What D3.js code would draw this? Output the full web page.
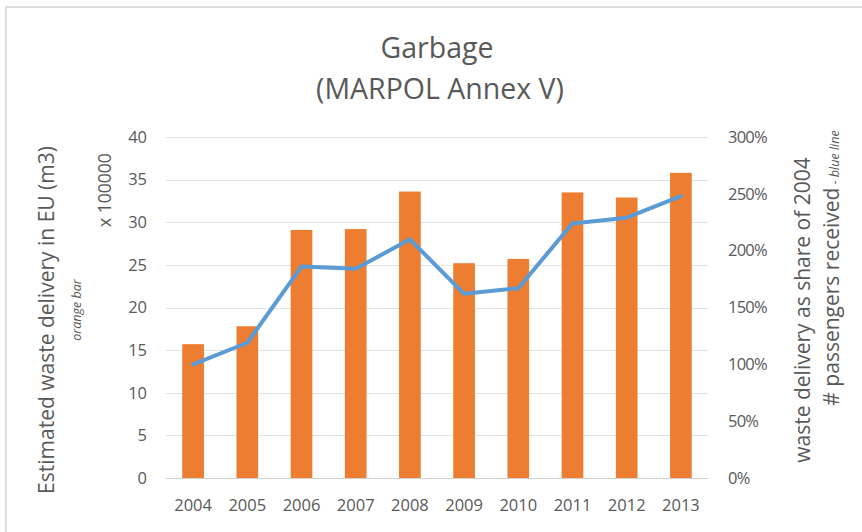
<!DOCTYPE html>
<html>
<head>
<meta charset="utf-8">
<script src="https://cdn.jsdelivr.net/npm/d3@7"></script>
<style>
	body {margin: 0; background: #fff;}
	svg text {font-family: "Open Sans", Lato, sans-serif; fill: #595959;}
</style>
</head>
<body>
<div id="chart"></div>
<script>
(function() {
	'use strict';

	// values
	var years = ['2004', '2005', '2006', '2007', '2008', '2009', '2010', '2011', '2012', '2013'];
	var wasteDelivery = [15.7, 17.8, 29.1, 29.2, 33.6, 25.2, 25.7, 33.5, 32.9, 35.8]; // x 100000 m3
	var shareOf2004 = [1.00, 1.19, 1.86, 1.84, 2.10, 1.62, 1.67, 2.24, 2.29, 2.48];
	var leftTicks = [0, 5, 10, 15, 20, 25, 30, 35, 40];
	var rightTicks = [0, 0.5, 1, 1.5, 2, 2.5, 3];

	var W = 862, H = 532;
	var plot = {x0: 166, x1: 708, y0: 137, y1: 478};

	var svg = d3.select('#chart').append('svg')
		.attr('width', W).attr('height', H);

	// chart frame (only top/left edges are inside the picture)
	svg.append('rect')
		.attr('x', 6).attr('y', 7)
		.attr('width', W + 10).attr('height', H + 10)
		.attr('fill', '#fff')
		.attr('stroke', '#dedede')
		.attr('stroke-width', 2);

	var x = d3.scaleBand().domain(years).range([plot.x0, plot.x1]).paddingInner(0.6).paddingOuter(0.3);
	var yL = d3.scaleLinear().domain([0, 40]).range([plot.y1, plot.y0]);
	var yR = d3.scaleLinear().domain([0, 3]).range([plot.y1, plot.y0]);

	// gridlines
	svg.append('g')
		.selectAll('line')
		.data(leftTicks)
		.join('line')
		.attr('x1', plot.x0).attr('x2', plot.x1)
		.attr('y1', function(d) {return Math.round(yL(d)) + 0.5;})
		.attr('y2', function(d) {return Math.round(yL(d)) + 0.5;})
		.attr('stroke', function(d) {return d === 0 ? '#d0d0d0' : '#e3e3e3';})
		.attr('stroke-width', 1.2);

	// left axis labels
	var axL = svg.append('g')
		.attr('transform', 'translate(' + (plot.x0 - 19) + ',0)')
		.call(d3.axisLeft(yL).tickValues(leftTicks).tickSize(0).tickPadding(0));
	axL.select('.domain').remove();
	axL.selectAll('text').attr('font-size', 16.5).style('fill', '#595959');

	// right axis labels
	var axR = svg.append('g')
		.attr('transform', 'translate(' + (plot.x1 + 20) + ',0)')
		.call(d3.axisRight(yR).tickValues(rightTicks).tickSize(0).tickPadding(0).tickFormat(d3.format('.0%')));
	axR.select('.domain').remove();
	axR.selectAll('text').attr('font-size', 16.5).attr('letter-spacing', -0.8).style('fill', '#595959');

	// x axis labels
	var axB = svg.append('g')
		.attr('transform', 'translate(0,' + (plot.y1 + 21) + ')')
		.call(d3.axisBottom(x).tickSize(0).tickPadding(0));
	axB.select('.domain').remove();
	axB.selectAll('text').attr('font-size', 16.5).attr('dy', '0.71em').style('fill', '#595959');

	// bars
	svg.append('g')
		.selectAll('rect')
		.data(wasteDelivery)
		.join('rect')
		.attr('x', function(d, i) {return x(years[i]);})
		.attr('width', x.bandwidth())
		.attr('y', function(d) {return yL(d);})
		.attr('height', function(d) {return yL(0) - yL(d);})
		.attr('fill', '#ED7D31');

	// line
	var line = d3.line()
		.x(function(d, i) {return x(years[i]) + x.bandwidth() / 2;})
		.y(function(d) {return yR(d);});
	svg.append('path')
		.datum(shareOf2004)
		.attr('d', line)
		.attr('fill', 'none')
		.attr('stroke', '#5B9BD5')
		.attr('stroke-width', 4)
		.attr('stroke-linejoin', 'round')
		.attr('stroke-linecap', 'round');

	// title
	svg.append('text')
		.attr('x', 437).attr('y', 58)
		.attr('text-anchor', 'middle')
		.attr('font-size', 28.5)
		.text('Garbage');
	svg.append('text')
		.attr('x', 440).attr('y', 99)
		.attr('text-anchor', 'middle')
		.attr('font-size', 28.5)
		.text('(MARPOL Annex V)');

	// axis titles
	function vtext(cx, cy, size, str, italic) {
		return svg.append('text')
			.attr('transform', 'translate(' + cx + ',' + cy + ') rotate(-90)')
			.attr('text-anchor', 'middle')
			.attr('dy', '0.35em')
			.attr('font-size', size)
			.attr('font-style', italic ? 'italic' : null)
			.text(str);
	}
	vtext(47, 320, 21, 'Estimated waste delivery in EU (m3)');
	vtext(77, 310, 12.5, 'orange bar', true);
	vtext(105, 190, 17.5, 'x 100000');

	vtext(803, 310, 21, 'waste delivery as share of 2004');
	var t = svg.append('text')
		.attr('transform', 'translate(832,268) rotate(-90)')
		.attr('text-anchor', 'middle')
		.attr('dy', '0.35em')
		.attr('font-size', 21);
	t.append('tspan').text('# passengers received');
	t.append('tspan').attr('font-size', 12.5).attr('font-style', 'italic').text('  - blue line');
})();
</script>
</body>
</html>
